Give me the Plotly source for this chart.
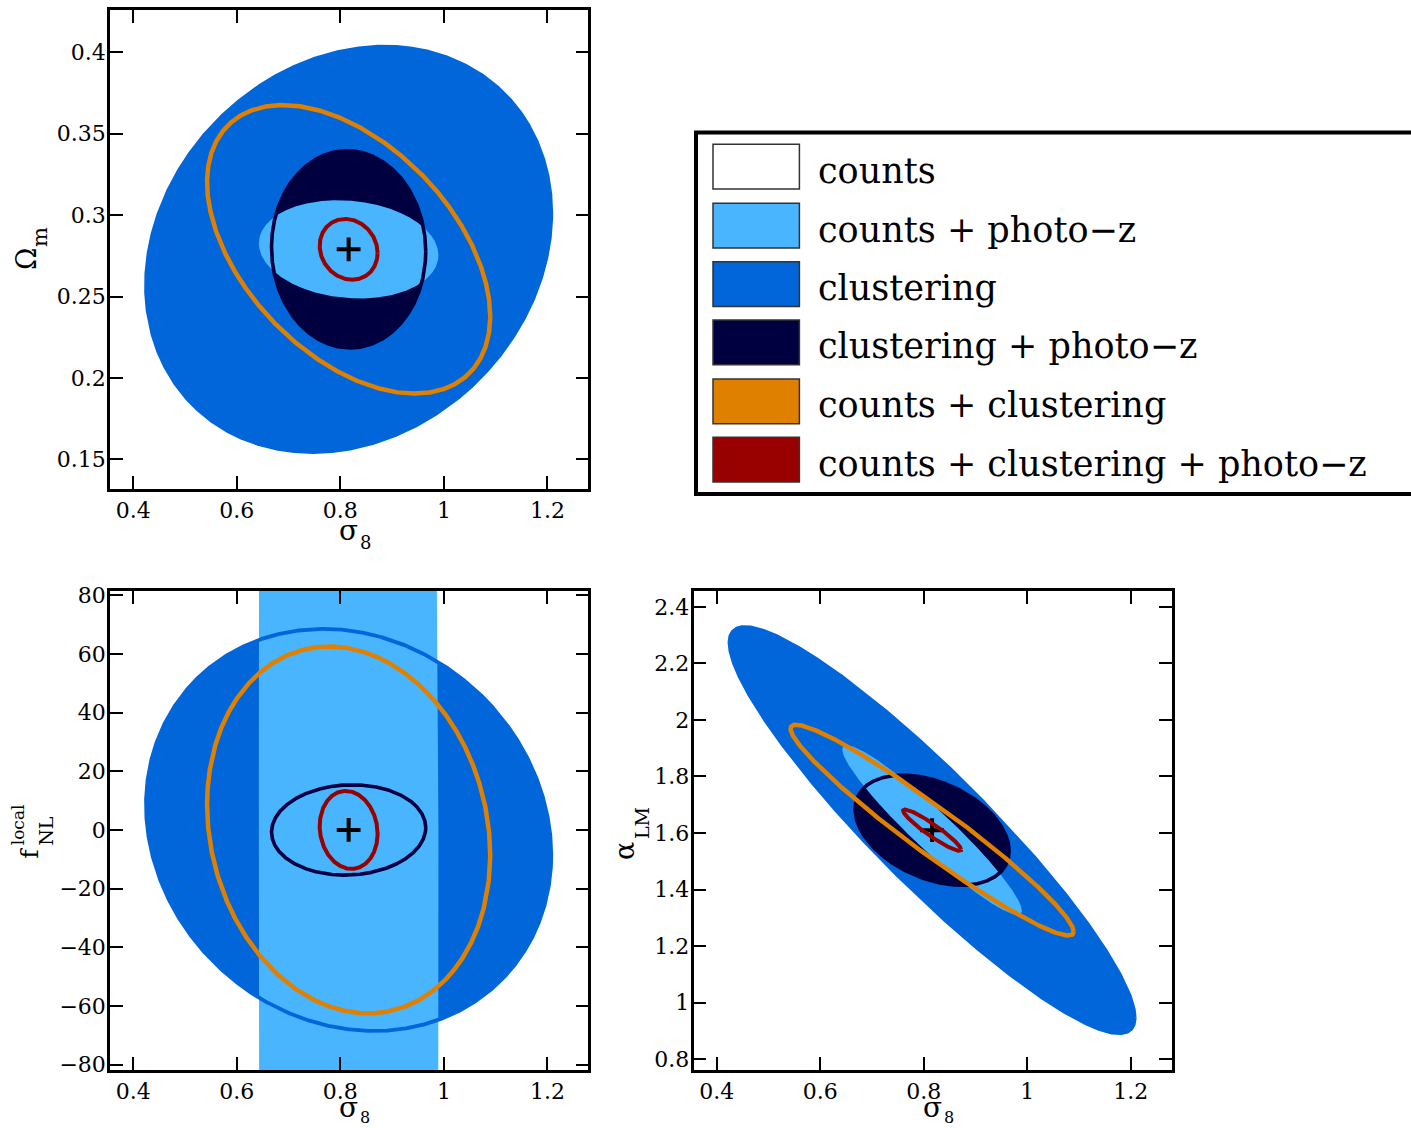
import numpy as np
import plotly.graph_objects as go

# ---------------- data ----------------
CONTOURS = ["counts", "counts + photo\u2212z", "clustering", "clustering + photo\u2212z",
            "counts + clustering", "counts + clustering + photo\u2212z"]
COLORS = ["#FFFFFF", "#49B5FF", "#0066D9", "#000040", "#E08000", "#990000"]

# fiducial model
SIGMA8_FID = 0.816
OMEGAM_FID = 0.279
FNL_FID = 0.0
ALPHA_FID = 1.61

# contour half-extents / correlations, ordered as
# [counts+photo-z, clustering, clustering+photo-z, counts+clustering, counts+clustering+photo-z]
S8_HALF = [0.1735, 0.3915, 0.149, 0.2735, 0.056]
OM_HALF = [0.0302, 0.1245, 0.0606, 0.0886, 0.0187]
OM_RHO = [-0.12, 0.178, -0.02, -0.465, -0.12]
FNL_HALF = [2000.0, 68.5, 15.4, 62.5, 13.3]
FNL_RHO = [0.0, -0.125, 0.05, -0.137, -0.10]
ALPHA_HALF = [0.30, 0.7185, 0.195, 0.373, 0.0734]
ALPHA_RHO = [-0.95, -0.923, -0.38, -0.962, -0.94]

X_TICKS = [0.4, 0.6, 0.8, 1.0, 1.2]
X_TICKTEXT = ["0.4", "0.6", "0.8", "1", "1.2"]
OM_TICKS = [0.15, 0.2, 0.25, 0.3, 0.35, 0.4]
OM_TICKTEXT = ["0.15", "0.2", "0.25", "0.3", "0.35", "0.4"]
FNL_TICKS = [-80, -60, -40, -20, 0, 20, 40, 60, 80]
FNL_TICKTEXT = ["\u221280", "\u221260", "\u221240", "\u221220", "0", "20", "40", "60", "80"]
AL_TICKS = [0.8, 1.0, 1.2, 1.4, 1.6, 1.8, 2.0, 2.2, 2.4]
AL_TICKTEXT = ["0.8", "1", "1.2", "1.4", "1.6", "1.8", "2", "2.2", "2.4"]

# ---------------- helpers ----------------
W, H = 1411, 1128
FONT = "DejaVu Serif"


def px(X):
    return X / W


def py(Y):
    return 1 - Y / H


T = np.linspace(0, 2 * np.pi, 4001)


def ellipse(cx, cy, sx, sy, rho):
    x = cx + sx * np.cos(T)
    y = cy + sy * (rho * np.cos(T) + np.sqrt(1 - rho ** 2) * np.sin(T))
    return x, y


fig = go.Figure()

panels = [
    ("x", "y", OMEGAM_FID, OM_HALF, OM_RHO),
    ("x2", "y2", FNL_FID, FNL_HALF, FNL_RHO),
    ("x3", "y3", ALPHA_FID, ALPHA_HALF, ALPHA_RHO),
]

for xa, ya, yfid, yhalf, yrho in panels:
    E = [ellipse(SIGMA8_FID, yfid, S8_HALF[i], yhalf[i], yrho[i]) for i in range(5)]
    col = COLORS[1:]
    # filled regions: clustering, clustering+photo-z, counts+photo-z
    for i in [1, 2, 0]:
        fig.add_trace(go.Scatter(x=E[i][0], y=E[i][1], mode="lines", fill="toself",
                                 fillcolor=col[i], line=dict(width=0, color=col[i]),
                                 xaxis=xa, yaxis=ya, showlegend=False, hoverinfo="skip"))
    # outlines
    for i, w in [(1, 3.8), (2, 3.6), (3, 4.5)]:
        fig.add_trace(go.Scatter(x=E[i][0], y=E[i][1], mode="lines",
                                 line=dict(width=w, color=col[i]),
                                 xaxis=xa, yaxis=ya, showlegend=False, hoverinfo="skip"))
    fig.add_trace(go.Scatter(x=[SIGMA8_FID], y=[yfid], mode="markers",
                             marker=dict(symbol="cross-thin", size=17,
                                         line=dict(width=4, color="black"), color="black"),
                             xaxis=xa, yaxis=ya, showlegend=False, hoverinfo="skip"))
    fig.add_trace(go.Scatter(x=E[4][0], y=E[4][1], mode="lines",
                             line=dict(width=4, color=col[4]),
                             xaxis=xa, yaxis=ya, showlegend=False, hoverinfo="skip"))

axstyle = dict(showline=True, linecolor="black", linewidth=2.5, mirror="ticks",
               ticks="inside", ticklen=13, tickwidth=2, tickcolor="black",
               showgrid=False, zeroline=False, automargin=False,
               tickfont=dict(family=FONT, size=22, color="black"))
yextra = dict(ticklabelstandoff=-3)

XR = [0.355, 1.279]
fig.update_layout(
    xaxis=dict(domain=[px(110), px(588.3)], range=XR, anchor="y",
               tickvals=X_TICKS, ticktext=X_TICKTEXT, **axstyle),
    yaxis=dict(domain=[py(489), py(10)], range=[0.1318, 0.426], anchor="x",
               tickvals=OM_TICKS, ticktext=OM_TICKTEXT, **axstyle, **yextra),
    xaxis2=dict(domain=[px(110), px(588.3)], range=XR, anchor="y2",
                tickvals=X_TICKS, ticktext=X_TICKTEXT, **axstyle),
    yaxis2=dict(domain=[py(1070), py(591)], range=[-81.8, 81.4], anchor="x2",
                tickvals=FNL_TICKS, ticktext=FNL_TICKTEXT, **axstyle, **yextra),
    xaxis3=dict(domain=[px(693.5), px(1171.7)], range=XR, anchor="y3",
                tickvals=X_TICKS, ticktext=X_TICKTEXT, **axstyle),
    yaxis3=dict(domain=[py(1070), py(591)], range=[0.7615, 2.456], anchor="x3",
                tickvals=AL_TICKS, ticktext=AL_TICKTEXT, **axstyle, **yextra),
)

ann = []


def label(X, Y, text, size, angle=0, xanchor="center"):
    ann.append(dict(x=px(X), y=py(Y), xref="paper", yref="paper", text=text,
                    showarrow=False, textangle=angle, xanchor=xanchor, yanchor="middle",
                    borderpad=0, font=dict(family=FONT, size=size, color="black")))


# x-axis titles (sigma_8)
label(359, 530, "\u03c3", 28, xanchor="right")
label(359, 542, "8", 18, xanchor="left")
for sx in [359, 942.7]:
    label(sx, 1107, "\u03c3", 28, xanchor="right")
    label(sx, 1117, "8", 16, xanchor="left")

# y-axis titles
label(26, 259, "\u03a9", 27, -90)
label(40, 237, "m", 21, -90)
label(28.7, 853, "f", 25, -90)
label(18.3, 825, "local", 17, -90)
label(45.8, 831, "NL", 19, -90)
label(624, 851, "\u03b1", 27, -90)
label(642, 823, "LM", 19, -90)

# legend (drawn by hand)
shapes = [dict(type="rect", xref="paper", yref="paper", x0=px(696), x1=px(1430),
               y0=py(494), y1=py(132.5), line=dict(color="black", width=4),
               fillcolor="white", layer="below")]
ROW_TOP = [144.3, 203.3, 261.7, 320, 379, 437.3]
for i, name in enumerate(CONTOURS):
    t = ROW_TOP[i]
    shapes.append(dict(type="rect", xref="paper", yref="paper", x0=px(713), x1=px(799.4),
                       y0=py(t + 44.7), y1=py(t), fillcolor=COLORS[i],
                       line=dict(color="#333333", width=1.5)))
    ann.append(dict(x=px(816), y=py(t + 22.4 + 4), xref="paper", yref="paper", text=name,
                    showarrow=False, xanchor="left", yanchor="middle",
                    font=dict(family=FONT, size=35, color="black")))

fig.update_layout(width=W, height=H,
                  margin=dict(l=0, r=0, t=0, b=0, pad=0, autoexpand=False),
                  paper_bgcolor="white", plot_bgcolor="white",
                  annotations=ann, shapes=shapes, showlegend=False)

fig.write_html("out.html", config={"displayModeBar": False},
               post_script="document.body.style.margin='0px';document.body.style.overflow='hidden';")
